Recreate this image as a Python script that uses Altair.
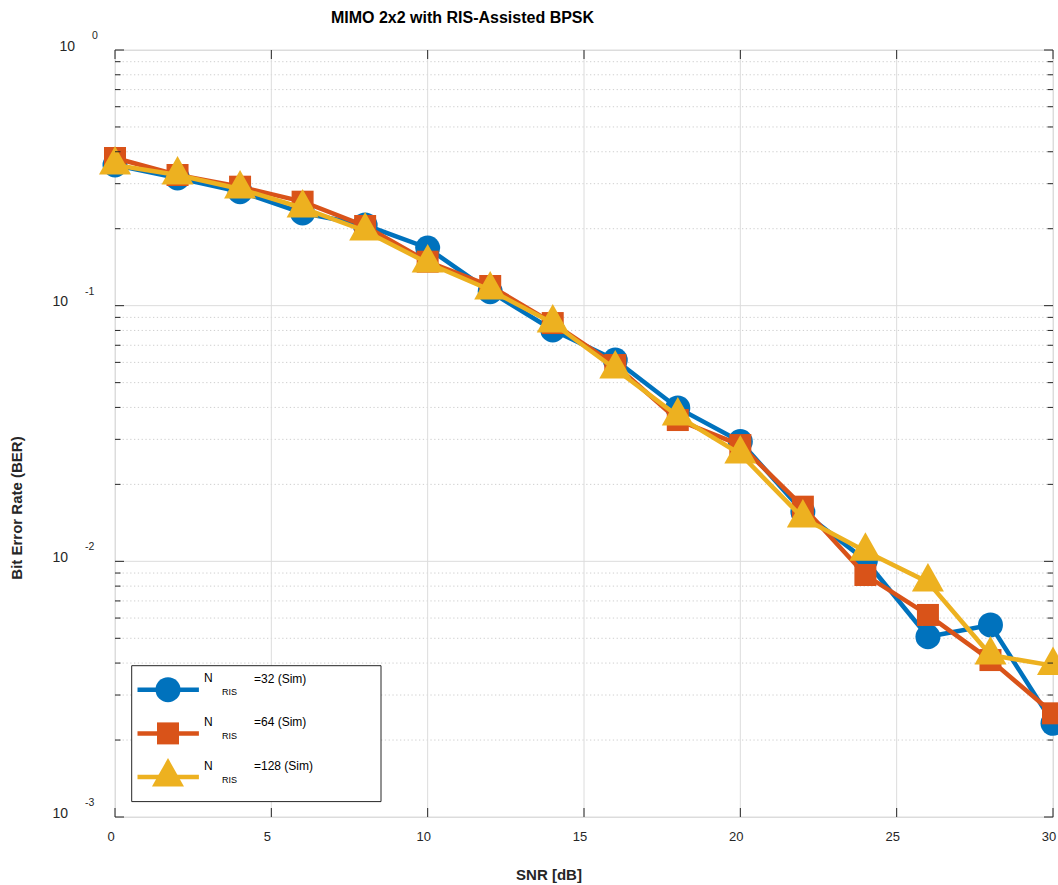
import altair as alt
import pandas as pd

# ---------------- data ----------------
SNR = [0, 2, 4, 6, 8, 10, 12, 14, 16, 18, 20, 22, 24, 26, 28, 30]
BER_32 = [0.355, 0.3158, 0.2791, 0.2304, 0.2067, 0.1681, 0.1134, 0.0803, 0.0613,
          0.0398, 0.0294, 0.01563, 0.0101, 0.00507, 0.00564, 0.002325]
BER_64 = [0.378, 0.3244, 0.2920, 0.2551, 0.2049, 0.1486, 0.1194, 0.0855, 0.0586,
          0.0357, 0.0285, 0.01636, 0.00884, 0.00617, 0.00411, 0.002544]
BER_128 = [0.355, 0.3244, 0.2860, 0.2410, 0.1959, 0.1469, 0.1151, 0.0855, 0.0565,
           0.0370, 0.0263, 0.01477, 0.01094, 0.00829, 0.0043, 0.00391]
NRIS = [32, 64, 128]
COLORS = ["#0072BD", "#D95319", "#EDB120"]
X_TICKS = [0, 5, 10, 15, 20, 25, 30]
Y_MAJOR = [1, 0.1, 0.01, 0.001]
Y_EXP = ["0", "-1", "-2", "-3"]
Y_MINOR = [m * d for d in [0.1, 0.01, 0.001] for m in range(2, 10)]
TITLE = "MIMO 2x2 with RIS-Assisted BPSK"
XTITLE = "SNR [dB]"
YTITLE = "Bit Error Rate (BER)"

# ---------------- layout ----------------
W, H = 938, 767
FONT = "Liberation Sans"
AX = "#262626"
TRI = "M0,-1.19L1,0.59L-1,0.59Z"
SHAPES = ["circle", "square", TRI]
SIZES = [625, 484, 1024]
LW = 4.5

rows = []
for n, vals in zip(NRIS, [BER_32, BER_64, BER_128]):
    for s, b in zip(SNR, vals):
        rows.append({"snr": s, "ber": b, "series": str(n)})
df = pd.DataFrame(rows)

xsc = alt.Scale(domain=[0, 30], nice=False, zero=False)
ysc = alt.Scale(type="log", domain=[0.001, 1], nice=False)


def X(f):
    return alt.X(f, scale=xsc, axis=None)


def Y(f):
    return alt.Y(f, scale=ysc, axis=None)


ymaj = pd.DataFrame({"v": Y_MAJOR, "e": Y_EXP})
ymin = pd.DataFrame({"v": Y_MINOR})
xmaj = pd.DataFrame({"v": X_TICKS})
one = pd.DataFrame({"a": [0]})

layers = []
# ---------------- grid ----------------
layers.append(alt.Chart(ymin).mark_rule(color="#cfcfcf", strokeWidth=1,
                                        strokeDash=[1.3, 2.5]).encode(
    y=Y("v:Q"), x=alt.value(0), x2=alt.value(W)))
layers.append(alt.Chart(ymaj).mark_rule(color="#dcdcdc", strokeWidth=1).encode(
    y=Y("v:Q"), x=alt.value(0), x2=alt.value(W)))
layers.append(alt.Chart(xmaj).mark_rule(color="#dcdcdc", strokeWidth=1).encode(
    x=X("v:Q"), y=alt.value(0), y2=alt.value(H)))

# ---------------- series ----------------
for i, n in enumerate(NRIS):
    sub = alt.Chart(df).transform_filter(alt.datum.series == str(n))
    layers.append(sub.mark_line(strokeWidth=LW, color=COLORS[i]).encode(
        x=X("snr:Q"), y=Y("ber:Q")))
    layers.append(sub.mark_point(filled=True, shape=SHAPES[i], size=SIZES[i],
                                 opacity=1, color=COLORS[i], strokeWidth=0).encode(
        x=X("snr:Q"), y=Y("ber:Q")))

# ---------------- inward ticks ----------------
for d, ln in [(ymaj, 9), (ymin, 5.5)]:
    for x0, x1 in [(0, ln), (W - ln, W)]:
        layers.append(alt.Chart(d).mark_rule(color=AX, strokeWidth=1).encode(
            y=Y("v:Q"), x=alt.value(x0), x2=alt.value(x1)))
for y0, y1 in [(0, 9), (H - 9, H)]:
    layers.append(alt.Chart(xmaj).mark_rule(color=AX, strokeWidth=1).encode(
        x=X("v:Q"), y=alt.value(y0), y2=alt.value(y1)))

# ---------------- tick labels ----------------
layers.append(alt.Chart(xmaj).mark_text(align="center", baseline="alphabetic", font=FONT,
                                        fontSize=13, color=AX, dx=-4).encode(
    x=X("v:Q"), y=alt.value(H + 24), text="v:Q"))
for test, shift in [("datum.e == '0'", 0), ("datum.e != '0'", 7)]:
    base = alt.Chart(ymaj).transform_filter(test)
    layers.append(base.mark_text(align="right", baseline="alphabetic", font=FONT,
                                 fontSize=14, color=AX, dy=0.5, text="10").encode(
        x=alt.value(-40 - shift), y=Y("v:Q")))
    layers.append(base.mark_text(align="left", baseline="alphabetic", font=FONT,
                                 fontSize=10.5, color=AX, dy=-11).encode(
        x=alt.value(-23 - shift), y=Y("v:Q"), text="e:N"))

# ---------------- titles ----------------
layers.append(alt.Chart(one).mark_text(align="center", baseline="alphabetic", font=FONT,
                                       fontSize=16, fontWeight="bold", color="black",
                                       text=TITLE).encode(
    x=alt.value(347.5), y=alt.value(-27)))
layers.append(alt.Chart(one).mark_text(align="center", baseline="middle", font=FONT,
                                       fontSize=15, fontWeight="bold", color=AX,
                                       text=XTITLE).encode(
    x=alt.value(434), y=alt.value(H + 58)))
layers.append(alt.Chart(one).mark_text(align="center", baseline="middle", font=FONT,
                                       fontSize=15, fontWeight="bold", color=AX,
                                       angle=270, text=YTITLE).encode(
    x=alt.value(-98), y=alt.value(458)))

# ---------------- legend ----------------
layers.append(alt.Chart(one).mark_rect(fill="white", stroke=AX, strokeWidth=1).encode(
    x=alt.value(16.7), x2=alt.value(266), y=alt.value(615.7), y2=alt.value(751.6)))
LEG_Y0, LEG_DY = 639.7, 43.7
for i, n in enumerate(NRIS):
    cy = LEG_Y0 + i * LEG_DY
    lab = pd.DataFrame({"t": ["=%d (Sim)" % n]})
    layers.append(alt.Chart(lab).mark_rule(strokeWidth=LW, color=COLORS[i]).encode(
        x=alt.value(22.5), x2=alt.value(83.9), y=alt.value(cy)))
    layers.append(alt.Chart(lab).mark_point(filled=True, shape=SHAPES[i], size=SIZES[i],
                                            opacity=1, color=COLORS[i], strokeWidth=0).encode(
        x=alt.value(53), y=alt.value(cy)))
    layers.append(alt.Chart(lab).mark_text(align="left", baseline="alphabetic", font=FONT,
                                           fontSize=12, color="black", text="N").encode(
        x=alt.value(89), y=alt.value(cy - 7.5)))
    layers.append(alt.Chart(lab).mark_text(align="left", baseline="alphabetic", font=FONT,
                                           fontSize=9, color="black", text="RIS").encode(
        x=alt.value(107), y=alt.value(cy + 5.5)))
    layers.append(alt.Chart(lab).mark_text(align="left", baseline="alphabetic", font=FONT,
                                           fontSize=12, color="black").encode(
        x=alt.value(139), y=alt.value(cy - 7), text="t:N"))

chart = alt.layer(*layers).properties(
    width=W, height=H,
    autosize=alt.AutoSizeParams(type="none"),
    padding={"left": 115, "top": 50, "right": 5, "bottom": 68},
).configure_view(stroke=AX, strokeWidth=1).configure(background="white")

chart.save("out.html", embed_options={"renderer": "svg", "actions": False})
